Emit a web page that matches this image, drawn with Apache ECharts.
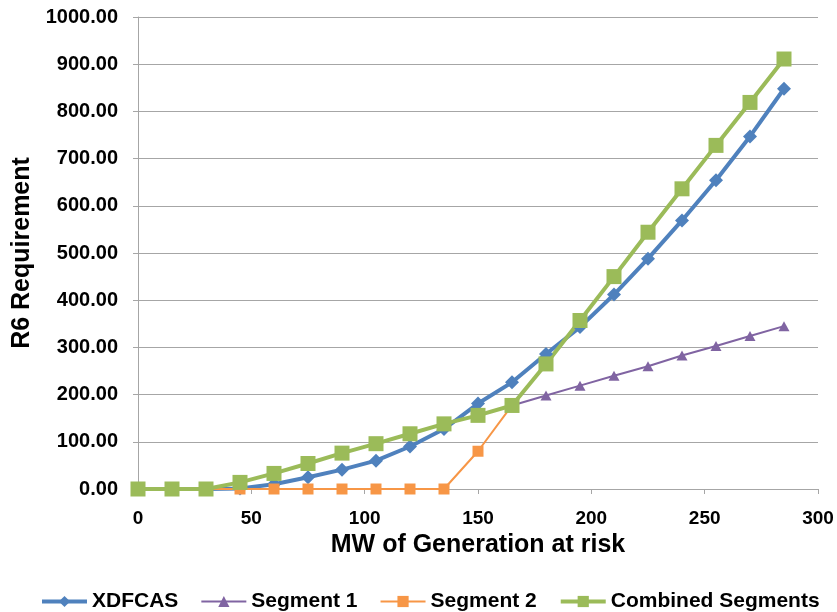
<!DOCTYPE html>
<html>
<head>
<meta charset="utf-8">
<script src="https://cdn.jsdelivr.net/npm/echarts@6/dist/echarts.min.js"></script>
<style>
html,body{margin:0;padding:0;background:#fff;}
#chart{width:837px;height:612px;}
</style>
</head>
<body>
<div id="chart"></div>
<script>
const xValues = [0,15,30,45,60,75,90,105,120,135,150,165,180,195,210,225,240,255,270,285];
const xdfcas = [0,0,0,1,10,25,41,60,90,127,181,226,286,343,412,488,569,654,747,848];
const segment1 = [0,0,0,14,33,54,76,96,117,138,156,177,198,219,240,260,283,303,324,345];
const segment2 = [0,0,0,0,0,0,0,0,0,0,80,177,265,357,450,544,636,728,819,911];
const combined = [0,0,0,14,33,54,76,96,117,138,156,177,265,357,450,544,636,728,819,911];
const seriesNames = ['XDFCAS','Segment 1','Segment 2','Combined Segments'];
const xTicks = {min:0, max:300, interval:50};
const yTicks = {min:0, max:1000, interval:100};

const pair = arr => xValues.map((x,i)=>[x,arr[i]]);
const font = 'Arial, "Liberation Sans", sans-serif';
const axisGray = '#A6A6A6';
const colors = ['#4F81BD','#8064A2','#F79646','#9BBB59'];
const widths = [4,2,2,4];

const chart = echarts.init(document.getElementById('chart'));
chart.setOption({
  animation:false,
  backgroundColor:'#fff',
  textStyle:{fontFamily:font},
  grid:{left:138,right:19,top:17,bottom:123},
  legend:{
    left:35, top:586,
    itemWidth:45, itemHeight:14, itemGap:22,
    textStyle:{fontFamily:font,fontSize:21,fontWeight:'bold',color:'#000'},
    data:seriesNames.map((n,i)=>({name:n,lineStyle:{width:widths[i],color:colors[i]}}))
  },
  xAxis:{
    type:'value', min:xTicks.min, max:xTicks.max, interval:xTicks.interval,
    name:'MW of Generation at risk', nameLocation:'middle', nameGap:40,
    nameTextStyle:{fontFamily:font,fontSize:25,fontWeight:'bold',color:'#000'},
    axisLine:{show:true,lineStyle:{color:axisGray,width:1}},
    axisTick:{show:true,length:5,lineStyle:{color:axisGray}},
    axisLabel:{margin:20,fontFamily:font,fontSize:19,fontWeight:'bold',color:'#000'},
    splitLine:{show:false}
  },
  yAxis:{
    type:'value', min:yTicks.min, max:yTicks.max, interval:yTicks.interval,
    name:'R6 Requirement', nameLocation:'middle', nameGap:103, nameRotate:90,
    nameTextStyle:{fontFamily:font,fontSize:25,fontWeight:'bold',color:'#000'},
    axisLine:{show:true,lineStyle:{color:axisGray,width:1}},
    axisTick:{show:true,length:5,lineStyle:{color:axisGray}},
    axisLabel:{margin:20,fontFamily:font,fontSize:20,fontWeight:'bold',color:'#000',
      formatter:v=>v.toFixed(2)},
    splitLine:{show:true,lineStyle:{color:axisGray,width:1}}
  },
  series:[
    {name:seriesNames[0],type:'line',data:pair(xdfcas),symbol:'diamond',symbolSize:[14,14],
     showAllSymbol:true,lineStyle:{color:colors[0],width:widths[0]},itemStyle:{color:colors[0]}},
    {name:seriesNames[1],type:'line',data:pair(segment1),symbol:'triangle',symbolSize:[11,10],
     showAllSymbol:true,lineStyle:{color:colors[1],width:widths[1]},itemStyle:{color:colors[1]}},
    {name:seriesNames[2],type:'line',data:pair(segment2),symbol:'rect',symbolSize:11,
     showAllSymbol:true,lineStyle:{color:colors[2],width:widths[2]},itemStyle:{color:colors[2]}},
    {name:seriesNames[3],type:'line',data:pair(combined),symbol:'rect',symbolSize:15,
     showAllSymbol:true,lineStyle:{color:colors[3],width:widths[3]},itemStyle:{color:colors[3]}}
  ]
});
</script>
</body>
</html>
